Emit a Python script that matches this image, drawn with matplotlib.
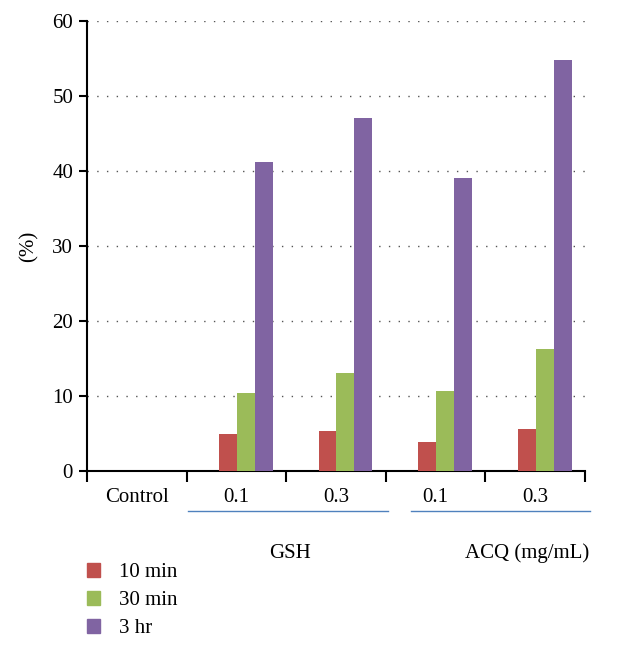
import numpy as np
import matplotlib
matplotlib.use("Agg")
import matplotlib.pyplot as plt
from matplotlib.patches import Patch

# data
categories = ['Control', '0.1', '0.3', '0.1', '0.3']
series_names = ['10 min', '30 min', '3 hr']
min10 = [0, 4.9, 5.3, 3.8, 5.6]
min30 = [0, 10.4, 13.0, 10.6, 16.2]
hr3 = [0, 41.2, 47.0, 39.1, 54.8]
colors = ['#c0504d', '#9bbb59', '#8064a2']

plt.rcParams['font.family'] = ['Liberation Serif', 'DejaVu Serif']

fig = plt.figure(figsize=(6.43, 6.46), dpi=100)
ax = fig.add_axes([0.1353, 0.2709, 0.7745, 0.6966])

x = np.arange(len(categories))
width = 0.18
offsets = [-0.085, 0.095, 0.275]
for vals, off, col, name in zip([min10, min30, hr3], offsets, colors, series_names):
    ax.bar(x + off, vals, width, color=col, label=name, zorder=3)

ax.set_xlim(-0.5, 4.5)
ax.set_ylim(0, 60)
ax.set_yticks(range(0, 61, 10))
ax.yaxis.grid(True, color='#555555', linestyle=(0, (1, 6)), linewidth=1.0, zorder=0)

for s in ['top', 'right']:
    ax.spines[s].set_visible(False)
ax.spines['left'].set_linewidth(1.5)
ax.spines['bottom'].set_linewidth(1.5)

ax.tick_params(axis='y', direction='out', length=6, width=1.5, labelsize=15, pad=4)
ax.set_xticks(np.arange(-0.5, 5, 1))
ax.set_xticklabels([])
ax.tick_params(axis='x', direction='out', length=8, width=1.5)
ax.set_xticks(x, minor=True)
ax.set_xticklabels(categories, minor=True, fontsize=15)
ax.tick_params(axis='x', which='minor', length=0, pad=12)

ax.set_ylabel('(%)', fontsize=15, labelpad=10)

# group underlines and labels
line_y = -0.088
ax.plot([0.515, 2.52], [line_y, line_y], transform=ax.get_xaxis_transform(),
        color='#4f81bd', linewidth=1, clip_on=False)
ax.plot([2.75, 4.55], [line_y, line_y], transform=ax.get_xaxis_transform(),
        color='#4f81bd', linewidth=1, clip_on=False)
ax.text(1.54, -0.183, 'GSH', transform=ax.get_xaxis_transform(), ha='center',
        va='center', fontsize=15)
ax.text(3.92, -0.183, 'ACQ (mg/mL)', transform=ax.get_xaxis_transform(), ha='center',
        va='center', fontsize=15)

handles = [Patch(color=c, label=n) for c, n in zip(colors, series_names)]
fig.legend(handles=handles, loc='upper left', bbox_to_anchor=(0.122, 0.142),
           frameon=False, fontsize=15, handlelength=0.65, handleheight=0.65,
           handletextpad=0.9, labelspacing=0.42, borderaxespad=0)

fig.savefig('out.png', dpi=100)
